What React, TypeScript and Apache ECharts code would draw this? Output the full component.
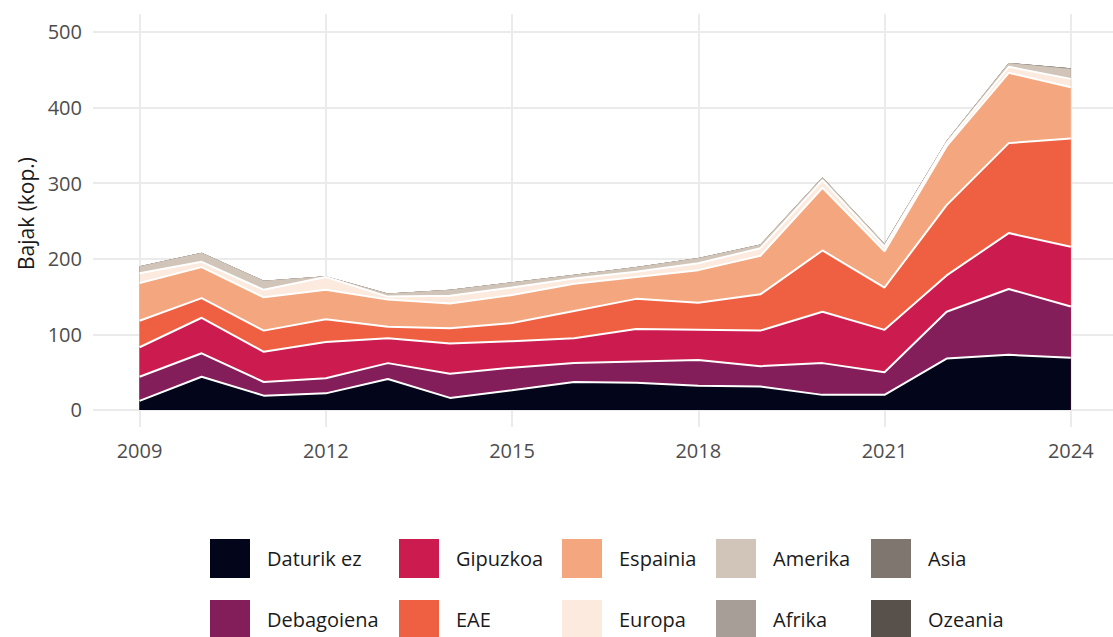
import React, { useEffect, useRef } from "react";
import * as echarts from "echarts";

const years = [2009, 2010, 2011, 2012, 2013, 2014, 2015, 2016, 2017, 2018, 2019, 2020, 2021, 2022, 2023, 2024];
const xTicks = [2009, 2012, 2015, 2018, 2021, 2024];
const yTicks = [0, 100, 200, 300, 400, 500];

const seriesNames = ["Daturik ez", "Debagoiena", "Gipuzkoa", "EAE", "Espainia", "Europa", "Amerika", "Afrika", "Asia", "Ozeania"];
const seriesColors = ["#03051a", "#841e5a", "#cb1b4f", "#ef6042", "#f4a77f", "#fbeadd", "#d1c5b9", "#a79e97", "#7f7670", "#58504b"];

const daturikEz = [12, 44, 19, 22, 41, 16, 26, 37, 36, 32, 31, 20, 20, 68, 73, 69];
const debagoiena = [32, 31, 18, 20, 21, 32, 30, 25, 28, 34, 27, 42, 30, 62, 87, 68];
const gipuzkoa = [39, 47, 40, 48, 33, 40, 35, 33, 43, 40, 47, 68, 56, 48, 74, 79];
const eae = [35, 26, 28, 30, 15, 20, 24, 36, 40, 36, 48, 81, 56, 93, 119, 143];
const espainia = [50, 41, 44, 39, 36, 33, 37, 36, 29, 43, 51, 83, 48, 78, 93, 68];
const europa = [13, 7, 10, 17, 4, 10, 10, 7, 7, 9, 10, 10, 6, 4, 8, 11];
const amerika = [9, 12, 12, 1, 4, 8, 7, 5, 6, 7, 5, 4, 4, 3, 5, 13];
const afrika = [0, 0, 0, 0, 0, 0, 0, 0, 0, 0, 0, 0, 0, 0, 0, 1];
const asia = [0, 0, 0, 0, 0, 0, 0, 0, 0, 0, 0, 0, 0, 0, 0, 0];
const ozeania = [0, 0, 0, 0, 0, 0, 0, 0, 0, 0, 0, 0, 0, 0, 0, 0];

const seriesValues = [daturikEz, debagoiena, gipuzkoa, eae, espainia, europa, amerika, afrika, asia, ozeania];

// legend layout: two rows, filled column by column
const legendCols = [210, 399, 562, 716, 871];
const legendRows = [539, 600];

const FONT = "'Open Sans', 'Noto Sans', sans-serif";

export default function App() {
  const ref = useRef<HTMLDivElement>(null);
  useEffect(() => {
    if (!ref.current) return;
    const chart = echarts.init(ref.current, undefined, { renderer: "svg" });

    // stacked tops, built from the per-category values
    const cumulative: number[][] = [];
    seriesValues.forEach((vals, i) => {
      cumulative.push(vals.map((v, j) => v + (i > 0 ? cumulative[i - 1][j] : 0)));
    });

    const legends = seriesNames.map((name, i) => ({
      data: [name],
      left: legendCols[Math.floor(i / 2)],
      top: legendRows[i % 2],
      orient: "horizontal",
      padding: 0,
      icon: "rect",
      itemWidth: 40,
      itemHeight: 39,
      itemGap: 0,
      itemStyle: { borderWidth: 0 },
      textStyle: { fontFamily: FONT, fontSize: 20, color: "#1a1a1a", padding: [0, 0, 0, 12] },
    }));

    // draw from the top layer down so lower layers (and their white edges) lie above
    const order = seriesNames.map((_, i) => seriesNames.length - 1 - i);
    const series = order.map((i) => ({
      name: seriesNames[i],
      type: "line",
      symbol: "none",
      smooth: false,
      color: seriesColors[i],
      itemStyle: { color: seriesColors[i] },
      lineStyle: { color: "#ffffff", width: i >= 6 ? 0 : 2 },
      areaStyle: { color: seriesColors[i], opacity: 1, origin: "auto" },
      data: years.map((y, j) => [y, cumulative[i][j]]),
    }));

    chart.setOption({
      animation: false,
      backgroundColor: "#ffffff",
      textStyle: { fontFamily: FONT },
      legend: legends,
      grid: { left: 93, top: 14, width: 1020, height: 413, containLabel: false },
      xAxis: {
        type: "value",
        min: 2008.25,
        max: 2024.68,
        axisLine: { show: false },
        axisTick: { show: false, customValues: xTicks },
        axisLabel: {
          customValues: xTicks,
          fontFamily: FONT,
          fontSize: 20,
          color: "#4d4d4d",
          margin: 13,
          formatter: (v: number) => String(v),
        },
        splitLine: { show: true, lineStyle: { color: "#ebebeb", width: 2 } },
      },
      yAxis: {
        type: "value",
        min: -22.5,
        max: 523.8,
        name: "Bajak (kop.)",
        nameLocation: "middle",
        nameGap: 56,
        nameTextStyle: { fontFamily: FONT, fontSize: 21, color: "#1a1a1a", padding: [0, 0, 0, 14] },
        axisLine: { show: false },
        axisTick: { show: false, customValues: yTicks },
        axisLabel: {
          customValues: yTicks,
          fontFamily: FONT,
          fontSize: 20,
          color: "#4d4d4d",
          margin: 11,
        },
        splitLine: { show: true, lineStyle: { color: "#ebebeb", width: 2 } },
      },
      series,
    });
    return () => chart.dispose();
  }, []);
  return (
    <div
      ref={ref}
      style={{ position: "absolute", left: 0, top: 0, width: 1113, height: 637, background: "#fff" }}
    />
  );
}
